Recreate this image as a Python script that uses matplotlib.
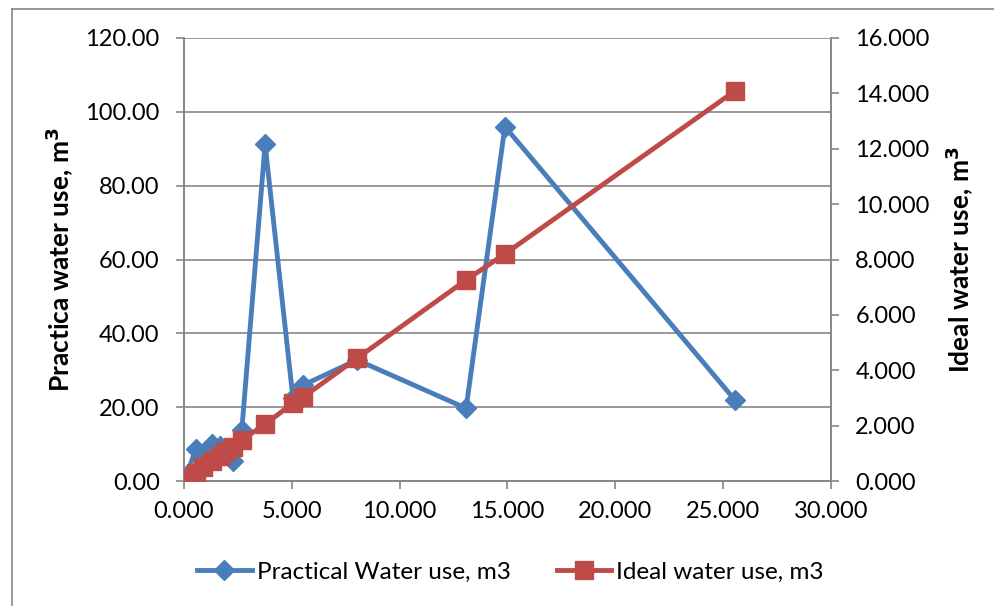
import matplotlib
matplotlib.use("Agg")
import matplotlib.pyplot as plt
from matplotlib.lines import Line2D

# Data
x_vals = [0.12, 0.55, 0.90, 1.30, 1.65, 1.95, 2.25, 2.68, 3.76, 5.05, 5.54, 8.02, 13.08, 14.88, 25.55]
practical = [1.5, 8.8, 6.5, 10.0, 9.5, 8.0, 5.5, 13.8, 91.2, 22.5, 26.0, 32.8, 19.7, 96.0, 21.9]
ideal = [0.07, 0.30, 0.50, 0.72, 0.91, 1.07, 1.24, 1.48, 2.05, 2.81, 3.04, 4.43, 7.26, 8.20, 14.09]

left_ticks = [0, 20, 40, 60, 80, 100, 120]
right_ticks = [0, 2, 4, 6, 8, 10, 12, 14, 16]
x_ticks = [0, 5, 10, 15, 20, 25, 30]

blue = "#4A7EBB"
red = "#BE4B48"
grid_c = "#868686"
fs = 17

plt.rcParams['font.family'] = ['Lato', 'DejaVu Sans']

fig = plt.figure(figsize=(9.95, 6.06), dpi=100)
ax = fig.add_axes([184/995, 1-481/606, (831-184)/995, (481-38)/606])
ax2 = ax.twinx()

l1, = ax.plot(x_vals, practical, color=blue, lw=3.5, marker='D', markersize=10.5,
              markeredgecolor=blue, markerfacecolor=blue, zorder=3)
l2, = ax2.plot(x_vals, ideal, color=red, lw=3.5, marker='s', markersize=13.5,
               markeredgecolor=red, markerfacecolor=red, zorder=4)

ax.set_xlim(0, 30)
ax.set_ylim(0, 120)
ax2.set_ylim(0, 16)
ax.set_xticks(x_ticks)
ax.set_xticklabels([f"{v:.3f}" for v in x_ticks])
ax.set_yticks(left_ticks)
ax.set_yticklabels([f"{v:.2f}" for v in left_ticks])
ax2.set_yticks(right_ticks)
ax2.set_yticklabels([f"{v:.3f}" for v in right_ticks])

ax.yaxis.grid(True, color=grid_c, lw=1.2)
ax.set_axisbelow(True)
for a in (ax, ax2):
    for s in a.spines.values():
        s.set_color(grid_c)
        s.set_linewidth(1.2)
    a.spines['top'].set_visible(False)
    a.tick_params(colors=grid_c, labelcolor='black', labelsize=fs,
                  length=5.5, width=1.2, direction='out')
ax.tick_params(axis='x', pad=9)
ax.tick_params(axis='y', pad=12)
ax2.tick_params(axis='y', pad=12)
ax2.set_zorder(ax.get_zorder() + 1)
ax2.patch.set_visible(False)

ax.set_ylabel(r'Practica water use, m$^\mathbf{3}$', fontsize=19, fontweight='bold', labelpad=7)
ax2.set_ylabel(r'Ideal water use, m$^\mathbf{3}$', fontsize=19, fontweight='bold',
               rotation=90, labelpad=10)

fig.legend([l1, l2], ["Practical Water use, m3", "Ideal water use, m3"],
           loc='center', bbox_to_anchor=(0.513, 1-572/606), ncol=2, frameon=False,
           fontsize=17.5, handlelength=2.25, handletextpad=0.2, columnspacing=1.9)

fig.add_artist(Line2D([12/995, 12/995], [0, 1-9/606], color=grid_c, lw=1.2, transform=fig.transFigure))
fig.add_artist(Line2D([12/995, 1], [1-9/606, 1-9/606], color=grid_c, lw=1.2, transform=fig.transFigure))

fig.savefig("out.png", dpi=100)
